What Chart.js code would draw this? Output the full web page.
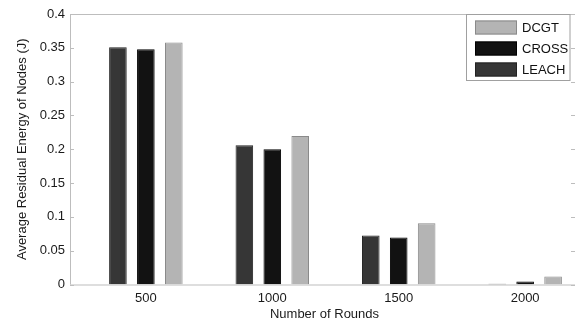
<!DOCTYPE html>
<html>
<head>
<meta charset="utf-8">
<script src="https://cdn.jsdelivr.net/npm/chart.js@4.4.1/dist/chart.umd.min.js"></script>
<style>
html,body{margin:0;padding:0;background:#fff;overflow:hidden;width:575px;height:322px;}
#wrap{position:relative;width:584px;height:322px;}
</style>
</head>
<body>
<div id="wrap"><canvas id="c" width="584" height="322"></canvas></div>
<script>
const rounds = [500, 1000, 1500, 2000];
const seriesNames = ['LEACH', 'CROSS', 'DCGT'];
const leach = [0.351, 0.206, 0.0725, 0.001];
const cross = [0.348, 0.200, 0.0695, 0.0045];
const dcgt  = [0.358, 0.2195, 0.0905, 0.012];
const yTicks = [0, 0.05, 0.1, 0.15, 0.2, 0.25, 0.3, 0.35, 0.4];
const xTitle = 'Number of Rounds';
const yTitle = 'Average Residual Energy of Nodes (J)';

const fills = ['#363636', '#121212', '#b4b4b4'];
const edges = ['#222222', '#000000', '#8a8a8a'];
const axisColor = '#bdbdbd';
const FONT = '"Liberation Sans", Arial, sans-serif';

function pts(vals){ return rounds.map((r,i)=>({x:r, y:vals[i]})); }

const frame = {
  id:'frame',
  afterDatasetsDraw(chart){
    const ctx = chart.ctx, a = chart.chartArea;
    const ys = chart.scales.y;
    ctx.save();
    ctx.strokeStyle = axisColor; ctx.lineWidth = 1;
    ctx.beginPath();
    ctx.moveTo(a.left+0.5, a.top+0.5); ctx.lineTo(a.right, a.top+0.5);
    ctx.moveTo(a.left+0.5, a.top); ctx.lineTo(a.left+0.5, a.bottom);
    ctx.moveTo(a.left, a.bottom+0.5); ctx.lineTo(a.right, a.bottom+0.5);
    ctx.moveTo(a.right-0.5, a.top); ctx.lineTo(a.right-0.5, a.bottom);
    // inward ticks
    yTicks.forEach(v=>{
      const y = Math.round(ys.getPixelForValue(v))+0.5;
      ctx.moveTo(a.left, y); ctx.lineTo(a.left+4, y);
      ctx.moveTo(a.right, y); ctx.lineTo(a.right-8, y);
    });
    ctx.stroke();
    // legend box
    const lx = 466.5, ly = a.top+0.5, lw = 103.5, lh = 66;
    ctx.fillStyle = '#fff';
    ctx.fillRect(lx, ly, lw, lh);
    ctx.strokeStyle = '#a0a0a0';
    ctx.strokeRect(lx, ly, lw, lh);
    const order = [2,1,0];
    const rowY = [27.5, 48.5, 69.5];
    ctx.font = '13px ' + FONT;
    ctx.textBaseline = 'middle';
    ctx.textAlign = 'left';
    order.forEach((di, k)=>{
      const ds = chart.data.datasets[di];
      const cy = rowY[k];
      ctx.fillStyle = ds.backgroundColor;
      ctx.fillRect(475, cy-7, 42, 14);
      ctx.strokeStyle = ds.borderColor;
      ctx.strokeRect(475.5, cy-6.5, 41, 13);
      ctx.fillStyle = '#111';
      ctx.fillText(ds.label, 522, cy+0.5);
    });
    ctx.restore();
  }
};

new Chart(document.getElementById('c'), {
  type:'bar',
  data:{
    datasets:[
      {label:seriesNames[0], data:pts(leach), backgroundColor:fills[0], borderColor:edges[0], borderWidth:1},
      {label:seriesNames[1], data:pts(cross), backgroundColor:fills[1], borderColor:edges[1], borderWidth:1},
      {label:seriesNames[2], data:pts(dcgt),  backgroundColor:fills[2], borderColor:edges[2], borderWidth:1}
    ]
  },
  options:{
    responsive:false,
    animation:false,
    categoryPercentage:0.663,
    barPercentage:0.63,
    layout:{padding:{top:14, right:5, left:0, bottom:0}},
    plugins:{legend:{display:false}, tooltip:{enabled:false}},
    scales:{
      x:{
        type:'linear', min:200, max:2213, offset:false,
        afterBuildTicks(s){ s.ticks = rounds.map(v=>({value:v})); },
        grid:{display:false, offset:false, drawTicks:false},
        border:{display:false},
        ticks:{font:{family:FONT, size:13}, color:'#1a1a1a', padding:6, maxRotation:0,
               callback:(v)=>String(v)},
        title:{display:true, text:xTitle, font:{family:FONT, size:13}, color:'#1a1a1a', padding:{top:0,bottom:0}},
        afterFit(s){ s.height = 37.5; }
      },
      y:{
        min:0, max:0.4,
        afterBuildTicks(s){ s.ticks = yTicks.map(v=>({value:v})); },
        grid:{display:false, drawTicks:false},
        border:{display:false},
        ticks:{font:{family:FONT, size:13}, color:'#1a1a1a', padding:5,
               callback:(v)=>String(+v.toFixed(2))},
        title:{display:true, text:yTitle, font:{family:FONT, size:13}, color:'#1a1a1a', padding:{top:15,bottom:0}},
        afterFit(s){ s.width = 70; }
      }
    }
  },
  plugins:[frame]
});
</script>
</body>
</html>
